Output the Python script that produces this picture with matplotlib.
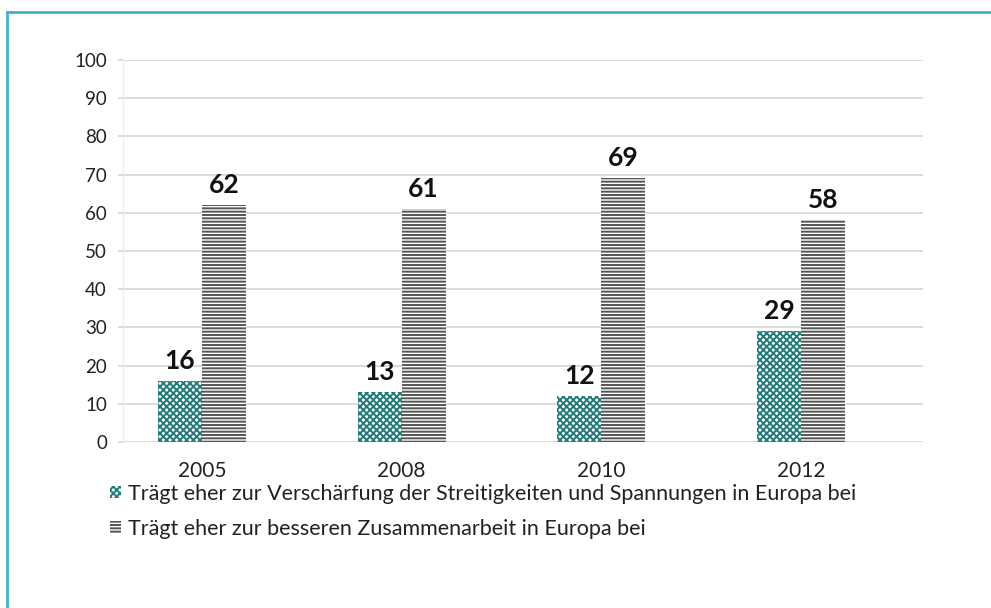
import matplotlib.pyplot as plt
import matplotlib.lines as mlines
import numpy as np

# Daten
jahre = ['2005', '2008', '2010', '2012']
verschaerfung = [16, 13, 12, 29]
zusammenarbeit = [62, 61, 69, 58]
legende = ['Trägt eher zur Verschärfung der Streitigkeiten und Spannungen in Europa bei',
           'Trägt eher zur besseren Zusammenarbeit in Europa bei']
y_ticks = list(range(0, 101, 10))

TEAL = '#1f7a78'
GRAU = '#555555'
RAND = '#3fb3cb'

plt.rcParams['font.family'] = ['Lato', 'DejaVu Sans']
plt.rcParams['hatch.linewidth'] = 1.4

fig = plt.figure(figsize=(9.91, 6.08), dpi=100)
W, H = 991, 608
ax = fig.add_axes([123 / W, (H - 442) / H, 800 / W, 382 / H])

x = np.arange(len(jahre))
breite = 0.22

b1 = ax.bar(x - breite / 2, verschaerfung, breite, color='white', edgecolor=TEAL,
            hatch='xxxxx', linewidth=0, label=legende[0], zorder=3)
b2 = ax.bar(x + breite / 2, zusammenarbeit, breite, color='white', edgecolor=GRAU,
            hatch='-----', linewidth=0, label=legende[1], zorder=3)

for bars in (b1, b2):
    for r in bars:
        ax.annotate(f'{r.get_height():.0f}', (r.get_x() + r.get_width() / 2, r.get_height()),
                    xytext=(0, 6), textcoords='offset points', ha='center', va='bottom',
                    fontsize=19, fontweight='bold', color='#111111')

ax.set_ylim(0, 100)
ax.set_xlim(-0.395, 3.61)
ax.set_yticks(y_ticks)
ax.set_xticks(x)
ax.set_xticklabels(jahre)
ax.grid(axis='y', color='#d4d4d4', linewidth=1.2, zorder=0)
ax.tick_params(axis='y', length=3.6, width=1.2, color='#d4d4d4', pad=8, labelsize=13.5, labelcolor='#222222')
ax.tick_params(axis='x', length=0, pad=14, labelsize=15, labelcolor='#222222')
for s in ['top', 'right', 'bottom']:
    ax.spines[s].set_visible(False)
ax.spines['left'].set_color('#ececec')

leg = fig.legend(handles=[b1, b2], loc='upper left', bbox_to_anchor=(110 / W, 1 - 484 / H),
                 frameon=False, fontsize=15.5, handlelength=0.5, handleheight=0.5,
                 handletextpad=0.35, labelspacing=0.7, borderaxespad=0, borderpad=0)
for t in leg.get_texts():
    t.set_color('#222222')

# Rahmen
fig.add_artist(mlines.Line2D([7 / W, 1], [1 - 12 / H, 1 - 12 / H], color=RAND, linewidth=2))
fig.add_artist(mlines.Line2D([7 / W, 7 / W], [0, 1 - 12 / H], color=RAND, linewidth=2))

fig.savefig('out.png', dpi=100)
